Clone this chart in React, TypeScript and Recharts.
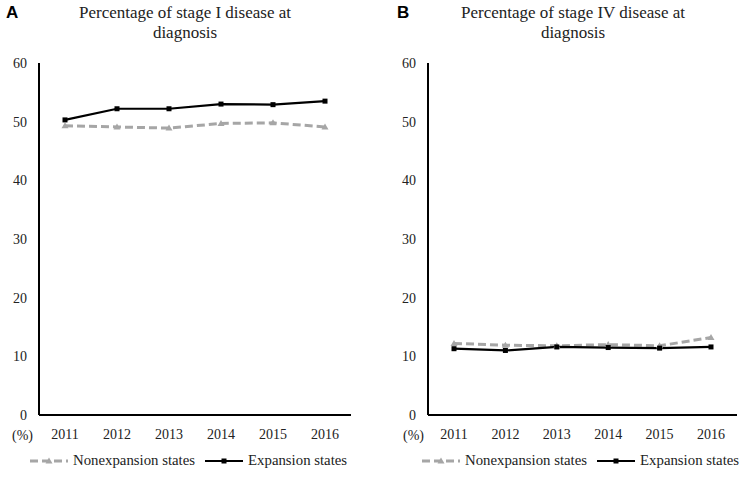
import React from 'react';
import { LineChart, Line, XAxis, YAxis } from 'recharts';

const years = ['2011', '2012', '2013', '2014', '2015', '2016'];
const stageINonexpansion = [49.3, 49.1, 48.9, 49.7, 49.8, 49.1];
const stageIExpansion = [50.3, 52.2, 52.2, 53.0, 52.9, 53.5];
const stageIVNonexpansion = [12.2, 11.9, 11.8, 12.0, 11.8, 13.2];
const stageIVExpansion = [11.3, 11.0, 11.6, 11.5, 11.4, 11.6];
const yTicks = [0, 10, 20, 30, 40, 50, 60];

const SERIF = '"Liberation Serif", "Times New Roman", serif';
const GRAY = '#a6a6a6';

const buildData = (non: number[], exp: number[]) =>
  years.map((year, i) => ({ year, non: non[i], exp: exp[i] }));

const SquareDot = (props: any) => {
  const { cx, cy } = props;
  if (cx == null || cy == null) return null;
  return <rect x={cx - 2.5} y={cy - 2.5} width={5} height={5} fill="#000" />;
};

const TriangleDot = (props: any) => {
  const { cx, cy } = props;
  if (cx == null || cy == null) return null;
  return (
    <polygon
      points={`${cx},${cy - 3.5} ${cx - 3.5},${cy + 2.5} ${cx + 3.5},${cy + 2.5}`}
      fill={GRAY}
    />
  );
};

const XTick = (props: any) => {
  const { x, y, payload } = props;
  return (
    <text x={x} y={y + 12} textAnchor="middle" fill="#222" fontSize={14} fontFamily={SERIF}>
      {payload.value}
    </text>
  );
};

const YTick = (props: any) => {
  const { x, y, payload } = props;
  return (
    <text x={x} y={y + 5} textAnchor="end" fill="#222" fontSize={14} fontFamily={SERIF}>
      {payload.value}
    </text>
  );
};

interface PanelProps {
  left: number;
  width: number;
  marginLeft: number;
  marginRight: number;
  letter: string;
  letterX: number;
  titleCenter: number;
  title: string[];
  data: { year: string; non: number; exp: number }[];
  pctX: number;
  legendX: number;
}

function Panel({ left, width, marginLeft, marginRight, letter, letterX, titleCenter, title, data, pctX, legendX }: PanelProps) {
  return (
    <div style={{ position: 'absolute', left, top: 0, width, height: 477, fontFamily: SERIF }}>
      <div
        style={{
          position: 'absolute',
          left: letterX,
          top: 3,
          fontFamily: '"Liberation Sans", Arial, sans-serif',
          fontWeight: 'bold',
          fontSize: 17,
        }}
      >
        {letter}
      </div>
      <div
        style={{
          position: 'absolute',
          left: titleCenter - 150,
          width: 300,
          top: 3,
          textAlign: 'center',
          fontSize: 17,
          lineHeight: '20px',
          color: '#222',
        }}
      >
        {title.map((t) => (
          <div key={t}>{t}</div>
        ))}
      </div>
      <LineChart
        width={width}
        height={477}
        data={data}
        margin={{ top: 63, right: marginRight, bottom: 32, left: marginLeft }}
      >
        <XAxis
          dataKey="year"
          height={30}
          padding={{ left: 26, right: 26 }}
          tickLine={false}
          tickSize={0}
          tickMargin={12}
          axisLine={{ stroke: '#000', strokeWidth: 2 }}
          tick={<XTick />}
          interval={0}
        />
        <YAxis
          width={30}
          domain={[0, 60]}
          ticks={yTicks}
          tickLine={false}
          tickSize={0}
          tickMargin={12}
          axisLine={{ stroke: '#000', strokeWidth: 2 }}
          tick={<YTick />}
        />
        <Line
          dataKey="non"
          stroke={GRAY}
          strokeWidth={3}
          strokeDasharray="8 4"
          dot={<TriangleDot />}
          isAnimationActive={false}
        />
        <Line
          dataKey="exp"
          stroke="#000"
          strokeWidth={2.2}
          dot={<SquareDot />}
          isAnimationActive={false}
        />
      </LineChart>
      <div
        style={{
          position: 'absolute',
          left: pctX,
          top: 428,
          fontSize: 14,
          color: '#222',
        }}
      >
        (%)
      </div>
      <div
        style={{
          position: 'absolute',
          left: legendX,
          top: 452,
          display: 'flex',
          alignItems: 'center',
          fontSize: 14.8,
          color: '#222',
          whiteSpace: 'nowrap',
        }}
      >
        <svg width={38} height={10} style={{ marginRight: 5 }}>
          <line x1={0} y1={5} x2={38} y2={5} stroke={GRAY} strokeWidth={3} strokeDasharray="8 4" />
          <polygon points="19,1.5 15.5,7.5 22.5,7.5" fill={GRAY} />
        </svg>
        <span>Nonexpansion states</span>
        <svg width={38} height={10} style={{ marginLeft: 10, marginRight: 5 }}>
          <line x1={0} y1={5} x2={38} y2={5} stroke="#000" strokeWidth={2.2} />
          <rect x={16.5} y={2.5} width={5} height={5} fill="#000" />
        </svg>
        <span>Expansion states</span>
      </div>
    </div>
  );
}

export default function App() {
  return (
    <div
      style={{
        position: 'absolute',
        left: 0,
        top: 0,
        width: 745,
        height: 477,
        background: '#fff',
        overflow: 'hidden',
      }}
    >
      <Panel
        left={0}
        width={372}
        marginLeft={9}
        marginRight={21}
        letter="A"
        letterX={6}
        titleCenter={185}
        title={['Percentage of stage I disease at', 'diagnosis']}
        data={buildData(stageINonexpansion, stageIExpansion)}
        pctX={12}
        legendX={30}
      />
      <Panel
        left={372}
        width={373}
        marginLeft={26}
        marginRight={8}
        letter="B"
        letterX={25}
        titleCenter={201}
        title={['Percentage of stage IV disease at', 'diagnosis']}
        data={buildData(stageIVNonexpansion, stageIVExpansion)}
        pctX={31}
        legendX={50}
      />
    </div>
  );
}
